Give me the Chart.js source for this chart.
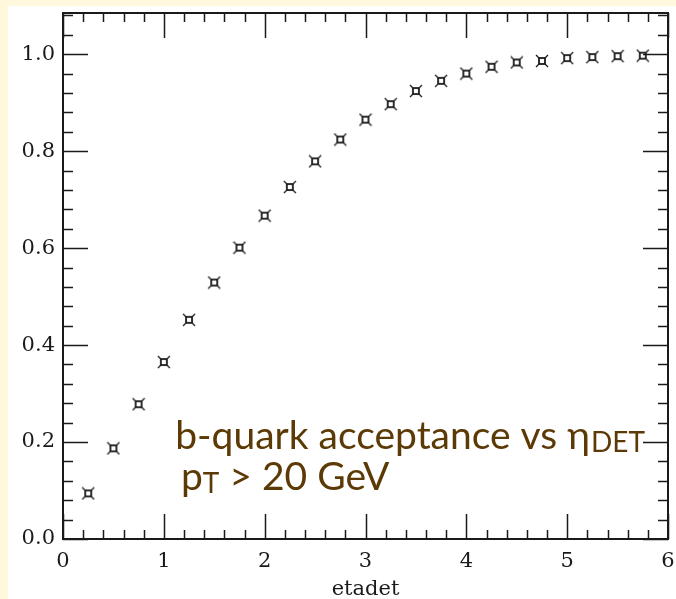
<!DOCTYPE html>
<html>
<head>
<meta charset="utf-8">
<script src="https://cdn.jsdelivr.net/npm/chart.js@4/dist/chart.umd.min.js"></script>
<style>
  html, body { margin: 0; padding: 0; background: #fff8dc; }
  #wrap { width: 676px; height: 599px; }
</style>
</head>
<body>
<div id="wrap"><canvas id="acceptanceChart" width="676" height="599"></canvas></div>
<script>
"use strict";

// eta bin centres and b-quark acceptance (pT > 20 GeV)
var etaValues = [0.25, 0.5, 0.75, 1.0, 1.25, 1.5, 1.75, 2.0, 2.25, 2.5, 2.75, 3.0,
                 3.25, 3.5, 3.75, 4.0, 4.25, 4.5, 4.75, 5.0, 5.25, 5.5, 5.75];
var acceptance = [0.094, 0.187, 0.278, 0.365, 0.452, 0.529, 0.601, 0.667, 0.726, 0.779, 0.824, 0.865,
                  0.897, 0.924, 0.945, 0.960, 0.974, 0.983, 0.986, 0.992, 0.994, 0.996, 0.997];

var xTickValues = [0, 1, 2, 3, 4, 5, 6];
var yTickValues = [0.0, 0.2, 0.4, 0.6, 0.8, 1.0];
var xMinorStep = 0.2;
var yMinorStep = 0.04;

var ink = '#1a1a1a';
var textBrown = '#5c3a06';
var axisFont = { family: "'DejaVu Serif', serif", size: 21 };

// open square with little diagonal whiskers at the corners
function makeMarker() {
    var c = document.createElement('canvas');
    c.width = 14;
    c.height = 14;
    var g = c.getContext('2d');
    g.strokeStyle = ink;
    g.lineWidth = 1.8;
    g.strokeRect(4, 4, 6, 6);
    g.lineWidth = 1.3;
    g.beginPath();
    g.moveTo(1, 1); g.lineTo(4, 4);
    g.moveTo(13, 1); g.lineTo(10, 4);
    g.moveTo(1, 13); g.lineTo(4, 10);
    g.moveTo(13, 13); g.lineTo(10, 10);
    g.stroke();
    return c;
}

var points = etaValues.map(function (x, i) { return { x: x, y: acceptance[i] }; });

// frame with inward ticks on all four sides
var framePlugin = {
    id: 'frame',
    beforeDraw: function (chart) {
        var ctx = chart.ctx;
        ctx.save();
        ctx.fillStyle = '#fff8dc';
        ctx.fillRect(0, 0, chart.width, chart.height);
        ctx.fillStyle = '#ffffff';
        ctx.fillRect(8, 6, chart.width - 8, chart.height - 6);
        ctx.restore();
    },
    beforeDatasetsDraw: function (chart) {
        var ctx = chart.ctx;
        var a = chart.chartArea;
        var xs = chart.scales.x;
        var ys = chart.scales.y;
        ctx.save();
        ctx.strokeStyle = ink;
        ctx.lineWidth = 2;
        ctx.strokeRect(a.left, a.top, a.right - a.left, a.bottom - a.top);

        ctx.lineWidth = 1.5;
        ctx.beginPath();
        var n, v, p, len;
        for (n = 0; n * xMinorStep <= xs.max + 1e-9; n++) {
            v = n * xMinorStep;
            p = Math.round(xs.getPixelForValue(v)) + 0.5;
            len = (n % 5 === 0) ? 25 : 9;
            ctx.moveTo(p, a.bottom); ctx.lineTo(p, a.bottom - len);
            ctx.moveTo(p, a.top); ctx.lineTo(p, a.top + len);
        }
        for (n = 0; n * yMinorStep <= ys.max + 1e-9; n++) {
            v = n * yMinorStep;
            p = Math.round(ys.getPixelForValue(v)) + 0.5;
            len = (n % 5 === 0) ? 25 : 10;
            ctx.moveTo(a.left, p); ctx.lineTo(a.left + len, p);
            ctx.moveTo(a.right, p); ctx.lineTo(a.right - len, p);
        }
        ctx.stroke();
        ctx.restore();
    },
    afterDraw: function (chart) {
        var ctx = chart.ctx;
        var xs = chart.scales.x;
        var ys = chart.scales.y;
        var big = "39px Lato, 'Open Sans', sans-serif";
        var small = "28px Lato, 'Open Sans', sans-serif";
        ctx.save();
        ctx.fillStyle = textBrown;
        ctx.textBaseline = 'alphabetic';
        ctx.textAlign = 'left';

        var x1 = xs.getPixelForValue(1.113);
        var y1 = ys.getPixelForValue(0.186);
        var s1 = 'b-quark acceptance vs \u03b7';
        ctx.font = big;
        ctx.fillText(s1, x1, y1);
        var w1 = ctx.measureText(s1).width;
        ctx.font = small;
        ctx.fillText('DET', x1 + w1 + 1, y1 + 3);

        var x2 = xs.getPixelForValue(1.17);
        var y2 = ys.getPixelForValue(0.101);
        ctx.font = big;
        ctx.fillText('p', x2, y2);
        var wp = ctx.measureText('p').width;
        ctx.font = small;
        ctx.fillText('T', x2 + wp, y2 + 3);
        var wt = ctx.measureText('T').width;
        ctx.font = big;
        ctx.fillText(' > 20 GeV', x2 + wp + wt, y2);
        ctx.restore();
    }
};

var ctx = document.getElementById('acceptanceChart').getContext('2d');
var myChart = new Chart(ctx, {
    type: 'scatter',
    data: {
        datasets: [{
            label: 'acceptance',
            data: points,
            pointStyle: makeMarker(),
            pointRadius: 7,
            pointHoverRadius: 7
        }]
    },
    options: {
        responsive: false,
        animation: false,
        events: [],
        layout: { padding: { left: 0, top: 13, right: 4, bottom: 0 } },
        plugins: {
            legend: { display: false },
            tooltip: { enabled: false }
        },
        scales: {
            x: {
                type: 'linear',
                position: 'bottom',
                min: 0,
                max: 6,
                grid: { display: false, drawTicks: false },
                border: { display: false },
                afterBuildTicks: function (scale) {
                    scale.ticks = xTickValues.map(function (v) { return { value: v }; });
                },
                afterFit: function (scale) {
                    scale.height = 60;
                    scale.paddingLeft = 0;
                    scale.paddingRight = 0;
                },
                ticks: {
                    color: ink,
                    font: axisFont,
                    padding: 10,
                    maxRotation: 0,
                    callback: function (v) { return String(v); }
                },
                title: {
                    display: true,
                    text: 'etadet',
                    color: ink,
                    font: axisFont,
                    padding: { top: 0, bottom: -3 }
                }
            },
            y: {
                type: 'linear',
                min: 0,
                max: 1.085,
                grid: { display: false, drawTicks: false },
                border: { display: false },
                afterBuildTicks: function (scale) {
                    scale.ticks = yTickValues.map(function (v) { return { value: v }; });
                },
                afterFit: function (scale) {
                    scale.width = 63;
                    scale.paddingTop = 0;
                    scale.paddingBottom = 0;
                },
                ticks: {
                    color: ink,
                    font: axisFont,
                    padding: 8,
                    callback: function (v) { return Number(v).toFixed(1); }
                }
            }
        }
    },
    plugins: [framePlugin]
});
</script>
</body>
</html>
